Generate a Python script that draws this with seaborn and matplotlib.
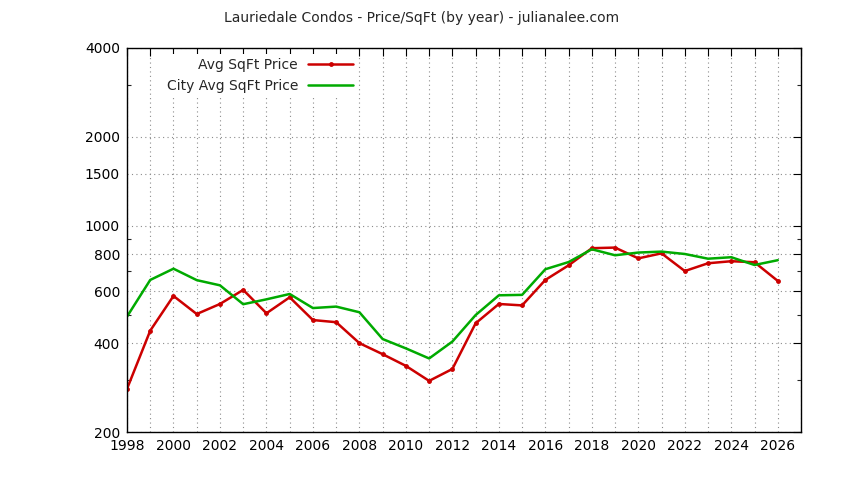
import numpy as np
import pandas as pd
import matplotlib
matplotlib.use("Agg")
import matplotlib.pyplot as plt
from matplotlib.ticker import FixedLocator, NullFormatter, FixedFormatter
import seaborn as sns

years = list(range(1998, 2027))
avg_price = [280, 441, 578, 502, 543, 606, 505, 572, 479, 471, 400, 367, 335, 298, 327,
             467, 543, 537, 655, 734, 839, 843, 775, 806, 702, 746, 758, 752, 650]
city_price = [492, 655, 715, 654, 628, 542, 563, 587, 526, 532, 509, 413, 384, 355, 405,
              498, 581, 583, 712, 753, 832, 794, 811, 817, 802, 773, 782, 736, 764]
series_names = ["Avg SqFt Price", "City Avg SqFt Price"]
y_major = [200, 400, 600, 800, 1000, 1500, 2000, 4000]
y_minor = [300, 500, 700, 900, 3000]
title = "Lauriedale Condos - Price/SqFt (by year) - julianalee.com"

sns.set_style("white")
plt.rcParams["font.family"] = ["DejaVu Sans"]
plt.rcParams["font.size"] = 10

df = pd.DataFrame({
    "year": years * 2,
    "price": avg_price + city_price,
    "series": [series_names[0]] * len(years) + [series_names[1]] * len(years),
})

fig = plt.figure(figsize=(8.44, 4.8), dpi=100)
ax = fig.add_axes([127 / 844, 1 - 432 / 480, (801 - 127) / 844, (432 - 48) / 480])

palette = {series_names[0]: "#cc0000", series_names[1]: "#00aa00"}
sns.lineplot(data=df[df.series == series_names[0]], x="year", y="price", ax=ax,
             color=palette[series_names[0]], lw=1.8, marker="o", markersize=3.5,
             markeredgewidth=0, label=series_names[0])
sns.lineplot(data=df[df.series == series_names[1]], x="year", y="price", ax=ax,
             color=palette[series_names[1]], lw=1.8, label=series_names[1])

ax.set_yscale("log")
ax.set_ylim(y_major[0], y_major[-1])
ax.set_xlim(1998, 2027)
ax.yaxis.set_major_locator(FixedLocator(y_major))
ax.yaxis.set_major_formatter(FixedFormatter([str(v) for v in y_major]))
ax.yaxis.set_minor_locator(FixedLocator(y_minor))
ax.yaxis.set_minor_formatter(NullFormatter())
xt = list(range(1998, 2028))
ax.xaxis.set_major_locator(FixedLocator(xt))
ax.xaxis.set_major_formatter(FixedFormatter([str(y) if y % 2 == 0 else "" for y in xt]))

ax.tick_params(axis="both", which="major", direction="in", length=5.5, width=0.8,
               top=True, right=True, labelsize=10, colors="black", pad=5)
ax.tick_params(axis="y", which="minor", direction="in", length=3, width=0.8,
               left=True, right=True)
ax.set_axisbelow(True)
ax.grid(True, which="major", color="#8c8c8c", linestyle=(0, (1, 3)), linewidth=0.8)
for s in ax.spines.values():
    s.set_color("black")
    s.set_linewidth(1)
ax.set_xlabel("")
ax.set_ylabel("")

leg = ax.legend(loc="upper right", bbox_to_anchor=(357 / 844, 1 - 54 / 480),
                bbox_transform=fig.transFigure, markerfirst=False, frameon=True,
                fontsize=10, handlelength=3.2, handletextpad=0.75, labelspacing=0.5,
                borderpad=0.3, borderaxespad=0, fancybox=False)
leg.get_frame().set_facecolor("white")
leg.get_frame().set_edgecolor("none")
leg.get_frame().set_alpha(1)
leg.set_zorder(5)

fig.text(0.5, 1 - 18 / 480, title, ha="center", va="center", fontsize=10)

fig.savefig("out.png", dpi=100, facecolor="white")
